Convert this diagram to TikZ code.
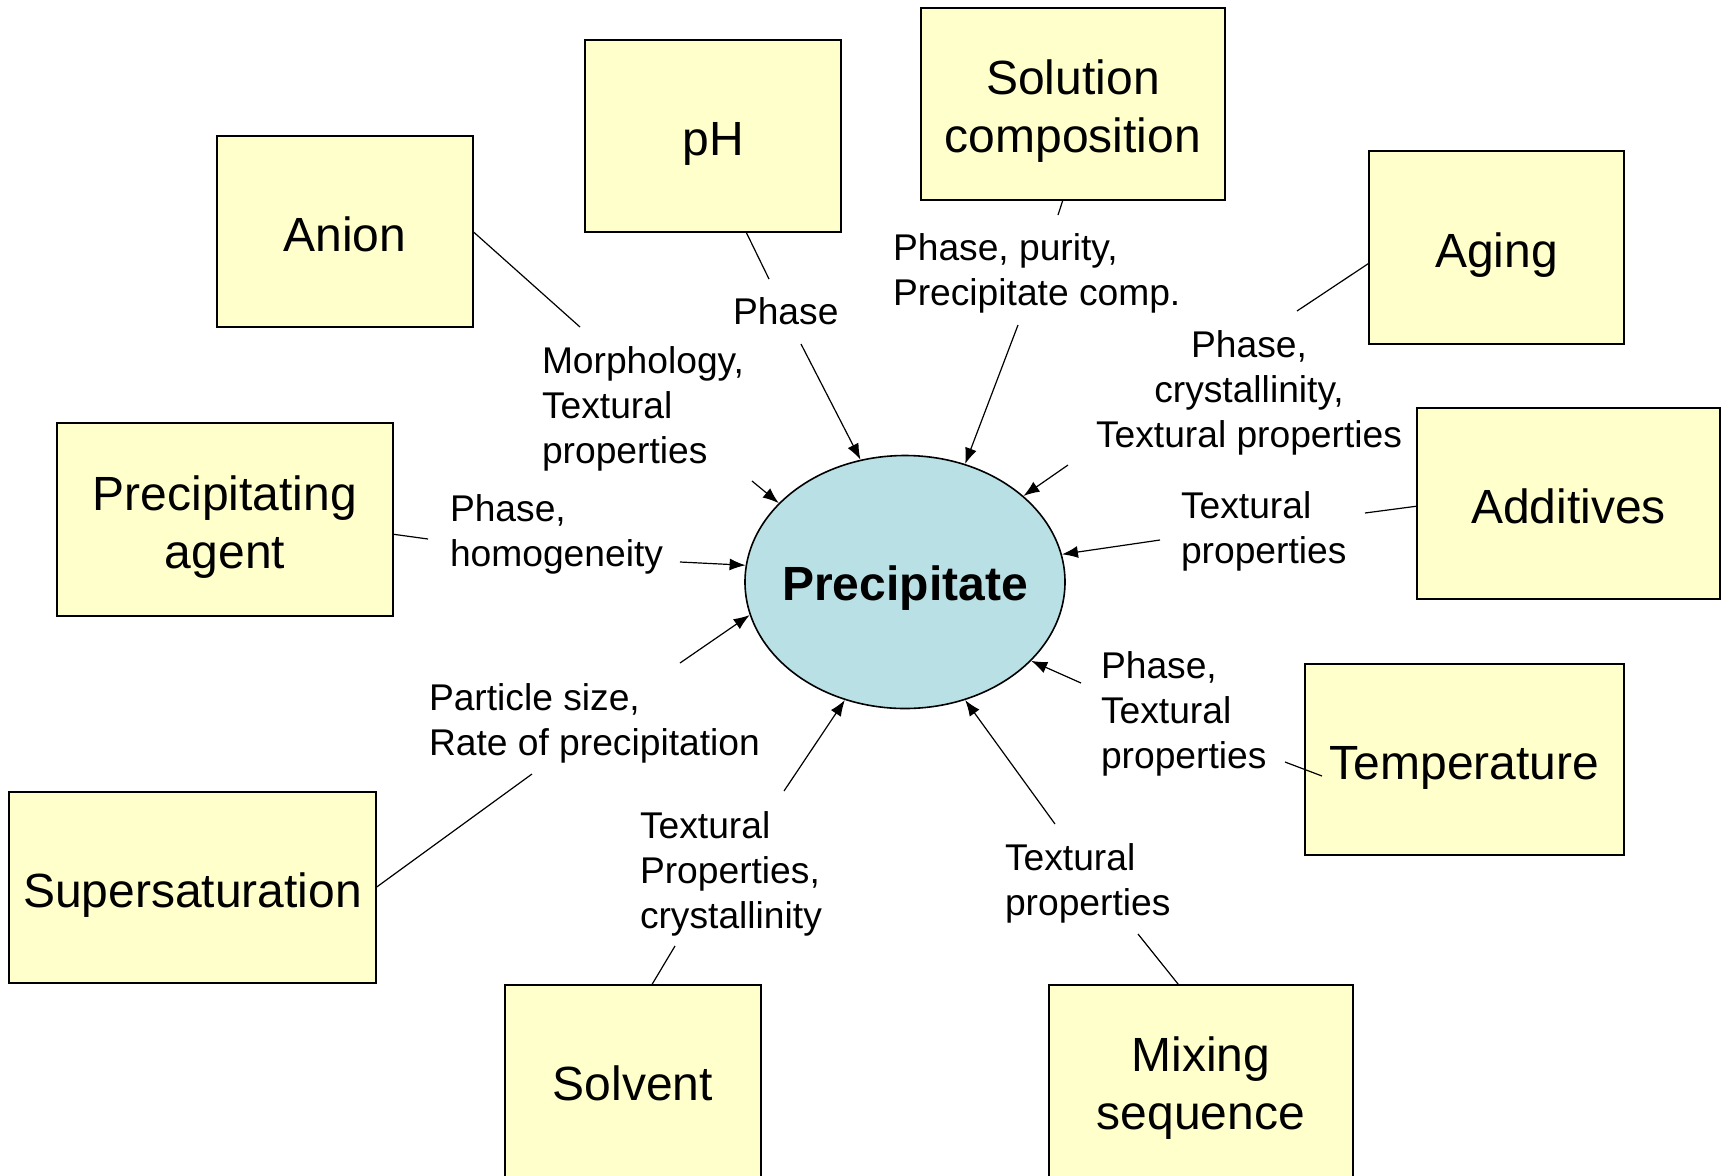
\documentclass[tikz,border=0pt]{standalone}
\usepackage{fontspec}
\setmainfont{Liberation Sans}
\usetikzlibrary{arrows.meta,shapes.geometric}
\definecolor{boxyellow}{HTML}{FFFFCC}
\definecolor{precblue}{HTML}{B9E0E4}

\begin{document}
\begin{tikzpicture}[x=0.5pt, y=-0.5pt, >={Latex[length=8pt,width=6pt]},
	factor/.style={draw, fill=boxyellow, line width=1pt, inner sep=0pt,
		outer sep=0pt, align=center, text height=19.5pt, text depth=0pt,
		font=\fontsize{24}{29}\selectfont},
	twolines/.style={text height=48.5pt},
	effect/.style={inner sep=0pt, outer sep=0pt, align=left,
		font=\fontsize{18.6}{22.5}\selectfont},
	link/.style={line width=0.6pt}]
	\useasboundingbox (0,0) rectangle (1721,1175);

	% the precipitate
	\node[ellipse, draw, fill=precblue, line width=0.8pt, inner xsep=-6pt, inner ysep=0pt,
		minimum width=160pt, minimum height=126.5pt, text height=18pt, text depth=0pt,
		font=\bfseries\fontsize{24}{29}\selectfont] (prec) at (905,582) {Precipitate};

	% the factors
	\node[factor, minimum width=128pt, minimum height=95.5pt] (anion) at (345,231.5) {Anion};
	\node[factor, minimum width=128pt, minimum height=96pt] (ph) at (713,136) {pH};
	\node[factor, twolines, minimum width=152pt, minimum height=96pt] (solcomp) at (1073,104) {Solution\\composition};
	\node[factor, minimum width=127.5pt, minimum height=96.5pt] (aging) at (1496.5,247.5) {Aging};
	\node[factor, minimum width=151.5pt, minimum height=95.5pt] (additives) at (1568.5,503.5) {Additives};
	\node[factor, minimum width=159.5pt, minimum height=95.5pt] (temp) at (1464.5,759.5) {Temperature};
	\node[factor, twolines, minimum width=152pt, minimum height=96pt] (mixing) at (1201,1081) {Mixing\\sequence};
	\node[factor, minimum width=128pt, minimum height=96pt] (solvent) at (633,1081) {Solvent};
	\node[factor, minimum width=183.5pt, minimum height=95.5pt] (supersat) at (192.5,887.5) {Supersaturation};
	\node[factor, twolines, minimum width=168pt, minimum height=96.5pt] (precagent) at (225,519.5) {Precipitating\\agent};

	% the effects (anchored at the baseline of the last line)
	\node[effect, anchor=base west] (anionlbl) at (542,463) {Morphology,\\Textural\\properties};
	\node[effect, anchor=base west] (phlbl) at (733,324) {Phase};
	\node[effect, anchor=base west] (sollbl) at (893,305) {Phase, purity,\\Precipitate comp.};
	\node[effect, anchor=base, align=center] (aginglbl) at (1249,447) {Phase,\\crystallinity,\\Textural properties};
	\node[effect, anchor=base west] (addlbl) at (1181,563) {Textural\\properties};
	\node[effect, anchor=base west] (templbl) at (1101,768) {Phase,\\Textural\\properties};
	\node[effect, anchor=base west] (mixlbl) at (1005,915) {Textural\\properties};
	\node[effect, anchor=base west] (solvlbl) at (640,928) {Textural\\Properties,\\crystallinity};
	\node[effect, anchor=base west] (suplbl) at (429,755) {Particle size,\\Rate of precipitation};
	\node[effect, anchor=base west] (agentlbl) at (450,566) {Phase,\\homogeneity};

	% free ends of the connectors
	\coordinate (anionA) at (580,327);   \coordinate (anionB) at (752,481);
	\coordinate (phA) at (769,279);      \coordinate (phB) at (801,344);
	\coordinate (solA) at (1058,215);    \coordinate (solB) at (1018,325);
	\coordinate (agingA) at (1297,311);  \coordinate (agingB) at (1068,465);
	\coordinate (addA) at (1365,513);    \coordinate (addB) at (1160,540);
	\coordinate (tempA) at (1285,762);   \coordinate (tempC) at (1322,776);
	\coordinate (tempB) at (1081,683);
	\coordinate (mixA) at (1138,934);    \coordinate (mixB) at (1055,824);
	\coordinate (solvA) at (675,946);    \coordinate (solvB) at (784,791);
	\coordinate (supA) at (532,774);     \coordinate (supB) at (680,663);
	\coordinate (agentA) at (428,539);   \coordinate (agentB) at (680,562);

	\draw[link] (anion.east) -- (anionA);
	\draw[link, ->] (anionB) -- (prec.148.5);
	\draw[link] (ph.-71.6) -- (phA);
	\draw[link, ->] (phB) -- (prec.110.7);
	\draw[link] (solcomp.264.6) -- (solA);
	\draw[link, ->] (solB) -- (prec.63.6);
	\draw[link] (aging.187.8) -- (agingA);
	\draw[link, ->] (agingB) -- (prec.36.6);
	\draw[link] (additives.181) -- (addA);
	\draw[link, ->] (addB) -- (prec.10.6);
	\draw[link] (tempA) -- (tempC);
	\draw[link, ->] (tempB) -- (prec.-32.3);
	\draw[link] (mixing.103.9) -- (mixA);
	\draw[link, ->] (mixB) -- (prec.-63.4);
	\draw[link] (solvent.79.9) -- (solvA);
	\draw[link, ->] (solvB) -- (prec.243.1);
	\draw[link] (supersat.east) -- (supA);
	\draw[link, ->] (supB) -- (prec.192.3);
	\draw[link] (precagent.-5.3) -- (agentA);
	\draw[link, ->] (agentB) -- (prec.174.6);
\end{tikzpicture}
\end{document}
